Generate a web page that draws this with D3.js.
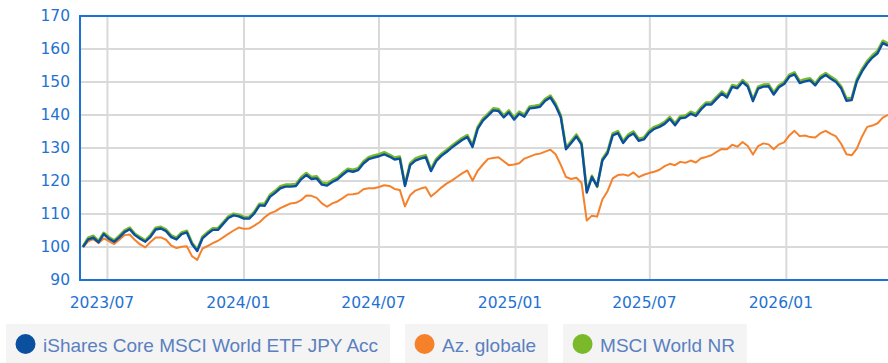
<!DOCTYPE html>
<html>
<head>
<meta charset="utf-8">
<script src="https://cdn.jsdelivr.net/npm/d3@7"></script>
<style>
  html, body { margin: 0; padding: 0; background: #ffffff; }
  svg { display: block; }
</style>
</head>
<body>
<svg id="chart" width="888" height="363"></svg>
<script>
// Weekly observations (Mondays)
const dates = [
  "2023-05-29","2023-06-05","2023-06-12","2023-06-19","2023-06-26","2023-07-03","2023-07-10","2023-07-17","2023-07-24","2023-07-31",
  "2023-08-07","2023-08-14","2023-08-21","2023-08-28","2023-09-04","2023-09-11","2023-09-18","2023-09-25","2023-10-02","2023-10-09",
  "2023-10-16","2023-10-23","2023-10-30","2023-11-06","2023-11-13","2023-11-20","2023-11-27","2023-12-04","2023-12-11","2023-12-18",
  "2023-12-25","2024-01-01","2024-01-08","2024-01-15","2024-01-22","2024-01-29","2024-02-05","2024-02-12","2024-02-19","2024-02-26",
  "2024-03-04","2024-03-11","2024-03-18","2024-03-25","2024-04-01","2024-04-08","2024-04-15","2024-04-22","2024-04-29","2024-05-06",
  "2024-05-13","2024-05-20","2024-05-27","2024-06-03","2024-06-10","2024-06-17","2024-06-24","2024-07-01","2024-07-08","2024-07-15",
  "2024-07-22","2024-07-29","2024-08-05","2024-08-12","2024-08-19","2024-08-26","2024-09-02","2024-09-09","2024-09-16","2024-09-23",
  "2024-09-30","2024-10-07","2024-10-14","2024-10-21","2024-10-28","2024-11-04","2024-11-11","2024-11-18","2024-11-25","2024-12-02",
  "2024-12-09","2024-12-16","2024-12-23","2024-12-30","2025-01-06","2025-01-13","2025-01-20","2025-01-27","2025-02-03","2025-02-10",
  "2025-02-17","2025-02-24","2025-03-03","2025-03-10","2025-03-17","2025-03-24","2025-03-31","2025-04-07","2025-04-14","2025-04-21",
  "2025-04-28","2025-05-05","2025-05-12","2025-05-19","2025-05-26","2025-06-02","2025-06-09","2025-06-16","2025-06-23","2025-06-30",
  "2025-07-07","2025-07-14","2025-07-21","2025-07-28","2025-08-04","2025-08-11","2025-08-18","2025-08-25","2025-09-01","2025-09-08",
  "2025-09-15","2025-09-22","2025-09-29","2025-10-06","2025-10-13","2025-10-20","2025-10-27","2025-11-03","2025-11-10","2025-11-17",
  "2025-11-24","2025-12-01","2025-12-08","2025-12-15","2025-12-22","2025-12-29","2026-01-05","2026-01-12","2026-01-19","2026-01-26",
  "2026-02-02","2026-02-09","2026-02-16","2026-02-23","2026-03-02","2026-03-09","2026-03-16","2026-03-23","2026-03-30","2026-04-06",
  "2026-04-13","2026-04-20","2026-04-27","2026-05-04","2026-05-11","2026-05-18"
];

// iShares Core MSCI World ETF JPY Acc (rebased to 100)
const etfValues = [
  100,102.3,102.8,101.4,103.9,102.5,101.6,102.9,104.5,105.4,
  103.6,102.5,101.6,103.1,105.3,105.6,104.8,103,102.3,103.9,
  104.4,100.8,98.8,102.6,104,105.2,105.2,107,108.8,109.6,
  109.3,108.6,108.6,110.2,112.6,112.5,115.2,116.4,117.8,118.3,
  118.3,118.5,120.5,121.8,120.6,120.8,118.9,118.6,119.7,120.5,
  121.9,123.1,122.8,123.3,125.3,126.6,127.1,127.5,128.1,127.4,
  126.5,126.8,118.5,124.8,126.2,126.8,127.2,123,126,127.6,
  128.8,130.1,131.3,132.4,133.3,130.3,135.8,138.3,139.8,141.4,
  141.2,139.3,140.8,138.6,140.4,139.5,142,142.2,142.5,144.3,
  145.3,142.8,139.3,129.6,131.5,133.5,131,116.5,121.2,118.4,
  126.2,128.4,133.8,134.5,131.5,133.5,134.4,132.2,132.6,134.6,
  135.8,136.4,137.3,138.8,136.9,139,139.2,140.4,139.7,141.7,
  143.2,143.2,144.9,146.5,145.3,148.5,148.1,150,148.6,144.2,
  148,148.6,148.7,146.2,148.4,149.4,151.6,152.3,149.7,150.2,
  150.5,149,151.1,152.1,151,150,148,144.3,144.5,150.2,
  153.2,155.6,157.4,158.7,161.8,161
];

// Az. globale category average
const categoryValues = [
  100,101.7,102.4,101.2,102.6,101.8,100.9,102.2,103.6,103.8,
  102.1,100.8,99.9,101.5,102.9,102.9,102.2,100.4,99.7,100.1,
  100.2,97.2,96.1,99.5,100.3,101.2,101.9,102.9,104,105,
  105.9,105.5,105.6,106.5,107.5,109,110.2,110.8,111.8,112.5,
  113.2,113.4,114.2,115.6,115.5,114.9,113.2,112.2,113.2,113.8,
  114.8,115.9,116,116.3,117.5,117.8,117.8,118.2,118.7,118.5,
  117.6,117.3,112.3,115.7,117.1,117.7,118.1,115.3,116.6,118,
  119.2,120.1,121.2,122.3,123.2,120.1,123.1,125,126.7,127,
  127.2,126,124.8,125,125.4,126.8,127.4,128,128.3,128.9,
  129.5,128.1,124.9,121.2,120.6,121,119.4,108,109.5,109.2,
  114.4,116.9,120.8,121.8,122,121.6,122.6,121.2,121.9,122.4,
  122.8,123.4,124.5,125.2,124.8,125.8,125.5,126.2,125.6,126.9,
  127.3,127.8,128.8,129.7,129.6,131,130.4,131.8,130.6,128,
  130.6,131.4,131.1,129.6,131.1,131.7,133.8,135.2,133.6,133.8,
  133.3,133.2,134.5,135.2,134.3,133.5,131.2,128.1,127.8,129.8,
  133.5,136.4,136.8,137.5,139.2,140
];

// MSCI World NR benchmark
const indexValues = [
  100.2,102.8,103.4,101.8,104.3,103,102,103.4,105,105.9,
  104,103,102,103.6,105.8,106.1,105.3,103.5,102.8,104.4,
  104.9,101.3,99.2,103.1,104.5,105.7,105.7,107.5,109.3,110.1,
  109.8,109.1,109.1,110.7,113.1,113.1,115.8,117,118.4,118.9,
  118.9,119.1,121.1,122.4,121.2,121.4,119.5,119.2,120.3,121.1,
  122.5,123.7,123.4,123.9,125.9,127.2,127.7,128.1,128.7,128,
  127.1,127.4,118.9,125.4,126.8,127.4,127.8,123.6,126.6,128.2,
  129.4,130.7,131.9,133,133.9,130.9,136.4,138.9,140.4,142,
  141.8,139.9,141.4,139.2,141,140.1,142.6,142.8,143.1,144.9,
  145.9,143.4,139.9,130.2,132.1,134.1,131.5,117,121.6,118.2,
  126.7,129,134.4,135.1,132.1,134.1,135,132.8,133.2,135.2,
  136.4,137,137.9,139.4,137.5,139.6,139.8,141,140.3,142.3,
  143.8,143.8,145.5,147.1,145.9,149.1,148.7,150.6,149.2,144.7,
  148.6,149.2,149.3,146.8,149,150,152.2,152.9,150.3,150.8,
  151.1,149.6,151.7,152.7,151.6,150.6,148.6,145,145.1,150.8,
  153.9,156.3,158.1,159.5,162.5,161.7
];

const seriesNames = ["iShares Core MSCI World ETF JPY Acc", "Az. globale", "MSCI World NR"];
const seriesColors = ["#0b4f9f", "#f5812b", "#79b92a"];
const yTicks = [90, 100, 110, 120, 130, 140, 150, 160, 170];
const xDomain = ["2023-05-25", "2026-05-18"];

const parse = d3.timeParse("%Y-%m-%d");
const svg = d3.select("#chart");

const plot = { left: 80, right: 888, top: 16, bottom: 280 };
const axisBlue = "#1f72d2";

const x = d3.scaleTime().domain(xDomain.map(parse)).range([plot.left, plot.right]);
const y = d3.scaleLinear().domain([90, 170]).range([plot.bottom, plot.top]);

const parsedDates = dates.map(parse);
const toPoints = vals => vals.map((v, i) => ({ date: parsedDates[i], value: v }));

// clip region for the plot
svg.append("defs").append("clipPath").attr("id", "plot-clip")
  .append("rect")
  .attr("x", plot.left).attr("y", plot.top - 2)
  .attr("width", plot.right - plot.left).attr("height", plot.bottom - plot.top + 4);

// grid
const xTicks = x.ticks(d3.timeMonth.every(6));
const grid = svg.append("g");
grid.selectAll("line.h").data(yTicks.filter(t => t > 90 && t < 170)).join("line")
  .attr("x1", plot.left).attr("x2", plot.right)
  .attr("y1", d => y(d)).attr("y2", d => y(d))
  .attr("stroke", "#d9d9d9").attr("stroke-width", 2);
grid.selectAll("line.v").data(xTicks).join("line")
  .attr("x1", d => x(d)).attr("x2", d => x(d))
  .attr("y1", plot.top).attr("y2", plot.bottom)
  .attr("stroke", "#d9d9d9").attr("stroke-width", 2);

// series lines
const line = d3.line().x(d => x(d.date)).y(d => y(d.value)).curve(d3.curveLinear);
const lines = svg.append("g").attr("clip-path", "url(#plot-clip)");
const drawOrder = [
  { vals: indexValues, color: seriesColors[2], w: 2.6 },
  { vals: categoryValues, color: seriesColors[1], w: 2 },
  { vals: etfValues, color: seriesColors[0], w: 2.4 }
];
drawOrder.forEach(s => {
  lines.append("path")
    .datum(toPoints(s.vals))
    .attr("fill", "none")
    .attr("stroke", s.color)
    .attr("stroke-width", s.w)
    .attr("stroke-linejoin", "round")
    .attr("d", line);
});

// frame: left, top and bottom edges
const frame = svg.append("g").attr("stroke", axisBlue).attr("stroke-width", 2);
frame.append("line").attr("x1", plot.left).attr("x2", plot.left).attr("y1", plot.top - 1).attr("y2", plot.bottom + 1);
frame.append("line").attr("x1", plot.left).attr("x2", plot.right).attr("y1", plot.top).attr("y2", plot.top);
frame.append("line").attr("x1", plot.left).attr("x2", plot.right).attr("y1", plot.bottom).attr("y2", plot.bottom);

// y-axis labels
const yAxis = d3.axisLeft(y).tickValues(yTicks).tickSize(0).tickPadding(10);
const gy = svg.append("g").attr("transform", `translate(${plot.left},0)`).call(yAxis);
gy.select(".domain").remove();
gy.selectAll("text")
  .attr("fill", axisBlue)
  .attr("font-family", "DejaVu Sans, Verdana, sans-serif")
  .attr("font-size", 15.5);

// x-axis labels
const xAxis = d3.axisBottom(x).tickValues(xTicks).tickFormat(d3.timeFormat("%Y/%m")).tickSize(0).tickPadding(17);
const gx = svg.append("g").attr("transform", `translate(0,${plot.bottom})`).call(xAxis);
gx.select(".domain").remove();
gx.selectAll("text")
  .attr("fill", axisBlue)
  .attr("dx", -6)
  .attr("font-family", "DejaVu Sans, Verdana, sans-serif")
  .attr("font-size", 15.5);

// legend
const legend = svg.append("g");
let lx = 6;
seriesNames.forEach((name, i) => {
  const item = legend.append("g").attr("transform", `translate(${lx},324)`);
  const bg = item.append("rect").attr("y", 0).attr("height", 42).attr("fill", "#f4f4f4");
  item.append("circle").attr("cx", 19.5).attr("cy", 20).attr("r", 10).attr("fill", seriesColors[i]);
  const t = item.append("text")
    .attr("x", 37).attr("y", 27.5)
    .attr("font-family", "Liberation Sans, Arial, sans-serif")
    .attr("font-size", 19)
    .attr("fill", "#5a80bf")
    .text(name);
  const w = 37 + t.node().getComputedTextLength() + 12;
  bg.attr("width", w);
  lx += w + 15;
});
</script>
</body>
</html>
